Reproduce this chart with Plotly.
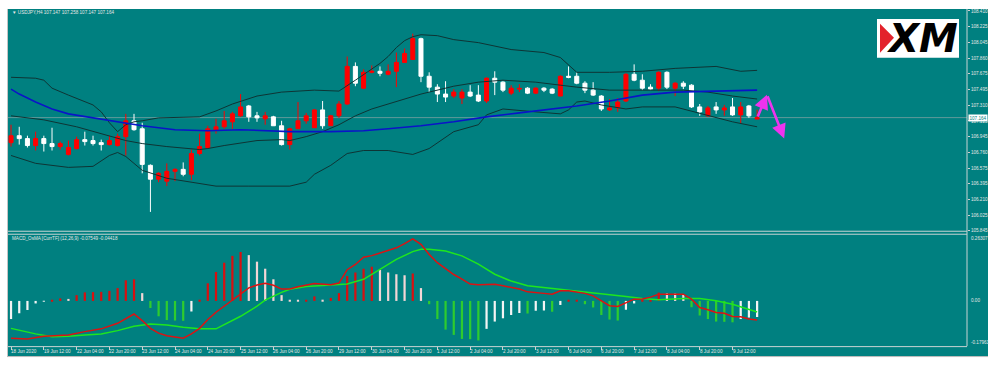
import plotly.graph_objects as go

# ---------------- data ----------------
bars = list(range(92))

open_ = [
    106.872, 106.953, 106.919, 106.838, 106.919, 106.861, 106.826, 106.734, 106.803, 106.907,
    106.896, 106.872, 106.849, 106.838, 106.942, 107.127, 107.034, 106.607, 106.445, 106.422,
    106.537, 106.560, 106.502, 106.745, 106.815, 107.023, 107.057, 107.115, 107.185, 107.300,
    107.185, 107.150, 107.173, 107.069, 106.849, 107.034, 107.127, 107.046, 107.254, 107.069,
    107.185, 107.323, 107.762, 107.508, 107.693, 107.705, 107.670, 107.705, 107.809, 107.843,
    108.086, 107.647, 107.520, 107.439, 107.416, 107.393, 107.462, 107.427, 107.358, 107.624,
    107.578, 107.450, 107.497, 107.508, 107.450, 107.508, 107.497, 107.416, 107.647, 107.647,
    107.566, 107.485, 107.416, 107.254, 107.277, 107.358, 107.670, 107.601, 107.520, 107.508,
    107.693, 107.508, 107.566, 107.543, 107.289, 107.185, 107.289, 107.254, 107.289, 107.196,
    107.300, 107.147]
high_ = [
    107.081, 107.057, 106.953, 107.000, 106.953, 107.046, 106.884, 106.896, 106.942, 107.000,
    106.953, 106.907, 106.953, 106.977, 107.208, 107.208, 107.104, 106.618, 106.526, 106.630,
    106.572, 106.641, 106.791, 106.977, 107.069, 107.150, 107.242, 107.231, 107.439, 107.312,
    107.231, 107.231, 107.185, 107.127, 107.046, 107.346, 107.219, 107.265, 107.358, 107.196,
    107.358, 107.878, 107.809, 107.728, 107.774, 107.762, 107.786, 107.924, 107.971, 108.144,
    108.098, 107.693, 107.554, 107.589, 107.497, 107.497, 107.543, 107.543, 107.635, 107.705,
    107.589, 107.543, 107.554, 107.520, 107.520, 107.520, 107.508, 107.658, 107.762, 107.693,
    107.589, 107.578, 107.427, 107.381, 107.393, 107.682, 107.786, 107.670, 107.554, 107.705,
    107.705, 107.578, 107.589, 107.554, 107.323, 107.300, 107.346, 107.312, 107.393, 107.346,
    107.312, 107.258]
low_ = [
    106.826, 106.849, 106.815, 106.780, 106.768, 106.780, 106.791, 106.722, 106.791, 106.838,
    106.838, 106.780, 106.838, 106.826, 106.722, 107.011, 106.514, 106.063, 106.410, 106.364,
    106.422, 106.479, 106.433, 106.722, 106.803, 106.977, 107.034, 107.034, 107.173, 107.115,
    107.115, 107.081, 107.069, 106.838, 106.791, 107.034, 107.092, 107.046, 107.034, 107.069,
    107.161, 107.312, 107.531, 107.497, 107.682, 107.647, 107.658, 107.520, 107.809, 107.843,
    107.578, 107.462, 107.346, 107.346, 107.393, 107.323, 107.404, 107.346, 107.335, 107.427,
    107.462, 107.427, 107.462, 107.439, 107.439, 107.462, 107.439, 107.416, 107.624, 107.554,
    107.450, 107.416, 107.242, 107.242, 107.231, 107.346, 107.589, 107.485, 107.485, 107.474,
    107.497, 107.416, 107.497, 107.277, 107.185, 107.173, 107.208, 107.185, 107.185, 107.092,
    107.161, 107.147]
close_ = [
    106.953, 106.919, 106.838, 106.919, 106.861, 106.826, 106.861, 106.815, 106.907, 106.884,
    106.861, 106.849, 106.896, 106.942, 107.127, 107.023, 106.618, 106.445, 106.514, 106.537,
    106.560, 106.502, 106.745, 106.826, 107.034, 107.057, 107.127, 107.208, 107.289, 107.173,
    107.161, 107.185, 107.069, 106.849, 107.034, 107.127, 107.185, 107.254, 107.069, 107.185,
    107.323, 107.762, 107.566, 107.693, 107.705, 107.682, 107.705, 107.809, 107.913, 108.086,
    107.647, 107.520, 107.439, 107.404, 107.462, 107.462, 107.416, 107.358, 107.624, 107.578,
    107.485, 107.508, 107.505, 107.450, 107.508, 107.485, 107.450, 107.647, 107.635, 107.566,
    107.485, 107.427, 107.265, 107.277, 107.346, 107.670, 107.601, 107.508, 107.497, 107.693,
    107.520, 107.566, 107.531, 107.289, 107.231, 107.277, 107.254, 107.277, 107.196, 107.289,
    107.185, 107.164]

bb_up_idx = [0, 3, 4, 5, 7, 10, 11, 12, 13, 14, 15, 16, 18, 23, 25, 27, 30, 33, 37, 40, 42, 44,
             45, 46, 47, 48, 49, 50, 52, 54, 57, 61, 65, 67, 68, 69, 73, 77, 81, 86, 89, 91]
bb_up = [107.635, 107.624, 107.601, 107.508, 107.427, 107.312, 107.231, 107.104, 107.000, 107.081,
         107.115, 107.127, 107.161, 107.173, 107.242, 107.323, 107.416, 107.462, 107.485, 107.474,
         107.601, 107.728, 107.797, 107.878, 107.982, 108.063, 108.109, 108.132, 108.121, 108.075,
         108.040, 107.959, 107.924, 107.866, 107.774, 107.693, 107.693, 107.705, 107.739, 107.762,
         107.705, 107.716]

bb_mid_idx = [0, 4, 8, 12, 14, 16, 19, 23, 24, 26, 30, 33, 34, 36, 38, 40, 42, 44, 46, 50, 54,
              57, 60, 64, 67, 69, 73, 77, 82, 85, 88, 91]
bb_mid = [107.185, 107.138, 107.057, 106.953, 106.896, 106.861, 106.826, 106.791, 106.803, 106.838,
          106.896, 106.907, 106.896, 106.942, 107.000, 107.081, 107.185, 107.265, 107.323, 107.439,
          107.531, 107.578, 107.601, 107.578, 107.543, 107.520, 107.485, 107.485, 107.485, 107.462,
          107.416, 107.381]

bb_low_idx = [0, 3, 7, 10, 12, 13, 14, 16, 19, 22, 25, 29, 34, 36, 37, 39, 41, 43, 46, 49, 51, 54,
              57, 58, 60, 64, 67, 68, 69, 70, 72, 75, 77, 81, 85, 88, 91]
bb_low = [106.722, 106.630, 106.583, 106.595, 106.722, 106.757, 106.710, 106.549, 106.456, 106.410,
          106.364, 106.364, 106.364, 106.410, 106.502, 106.607, 106.745, 106.780, 106.780, 106.734,
          106.803, 107.000, 107.081, 107.196, 107.265, 107.231, 107.208, 107.254, 107.346, 107.358,
          107.312, 107.265, 107.289, 107.289, 107.185, 107.115, 107.057]

ma_idx = [0, 1, 3, 5, 7, 10, 12, 16, 20, 24, 28, 34, 39, 43, 46, 50, 54, 58, 62, 66, 69, 73, 77,
          81, 85, 91]
ma_val = [107.497, 107.439, 107.346, 107.265, 107.208, 107.161, 107.127, 107.069, 107.023, 107.011,
          107.023, 107.000, 107.000, 107.011, 107.034, 107.069, 107.115, 107.173, 107.219, 107.265,
          107.300, 107.358, 107.427, 107.462, 107.474, 107.485]

osma = [
    -0.072, -0.049, -0.036, -0.010, -0.002, 0.002, 0.010, 0.008, 0.023, 0.034,
    0.035, 0.036, 0.040, 0.051, 0.082, 0.086, 0.031, -0.028, -0.061, -0.076,
    -0.078, -0.079, -0.042, 0.005, 0.070, 0.115, 0.152, 0.179, 0.194, 0.182,
    0.156, 0.128, 0.086, 0.023, 0.002, 0.001, 0.002, 0.018, 0.005, 0.012,
    0.031, 0.099, 0.113, 0.128, 0.136, 0.123, 0.113, 0.106, 0.102, 0.109,
    0.051, -0.013, -0.072, -0.114, -0.135, -0.151, -0.152, -0.157, -0.111, -0.082,
    -0.069, -0.056, -0.048, -0.050, -0.039, -0.038, -0.043, -0.016, 0.003, 0.004,
    -0.013, -0.026, -0.056, -0.074, -0.078, -0.035, -0.010, 0.002, 0.004, 0.033,
    0.030, 0.029, 0.024, -0.025, -0.058, -0.072, -0.082, -0.083, -0.085, -0.072,
    -0.066, -0.064]

macd_idx = [0, 2, 4, 7, 9, 11, 13, 14, 15, 16, 17, 18, 19, 21, 22, 23, 24, 25, 26, 27, 28, 29,
            30, 31, 32, 33, 34, 35, 37, 39, 40, 41, 42, 43, 44, 45, 46, 47, 48, 49, 50, 51, 52,
            53, 54, 55, 56, 57, 58, 59, 60, 61, 62, 63, 64, 65, 66, 67, 68, 69, 70, 71, 72, 73,
            74, 75, 76, 77, 78, 79, 82, 83, 84, 85, 86, 87, 88, 89, 90, 91]
macd_val = [-0.148, -0.151, -0.140, -0.135, -0.122, -0.111, -0.089, -0.069, -0.052, -0.078,
            -0.109, -0.128, -0.138, -0.148, -0.131, -0.109, -0.074, -0.045, -0.020, 0.005,
            0.030, 0.052, 0.063, 0.070, 0.062, 0.047, 0.047, 0.056, 0.069, 0.064,
            0.071, 0.124, 0.145, 0.174, 0.180, 0.191, 0.199, 0.211, 0.228, 0.247,
            0.225, 0.185, 0.152, 0.128, 0.105, 0.087, 0.067, 0.064, 0.066, 0.066,
            0.060, 0.053, 0.047, 0.036, 0.034, 0.030, 0.027, 0.040, 0.040, 0.034,
            0.030, 0.020, 0.001, -0.019, -0.022, -0.006, 0.007, 0.008, 0.015, 0.027,
            0.027, 0.007, -0.026, -0.035, -0.046, -0.049, -0.062, -0.063, -0.072, -0.07549]

signal_idx = [0, 3, 5, 7, 9, 11, 13, 15, 17, 19, 21, 23, 25, 26, 28, 30, 31, 33, 34, 36, 39, 41,
              43, 45, 47, 49, 50, 51, 53, 55, 57, 59, 61, 63, 65, 67, 69, 71, 73, 75, 77, 79,
              82, 84, 86, 88, 91]
signal_val = [-0.109, -0.131, -0.142, -0.140, -0.135, -0.131, -0.118, -0.101, -0.092, -0.096,
              -0.105, -0.111, -0.111, -0.094, -0.061, -0.021, 0.003, 0.034, 0.046, 0.057,
              0.063, 0.067, 0.086, 0.126, 0.165, 0.196, 0.205, 0.205, 0.198, 0.179,
              0.146, 0.106, 0.079, 0.060, 0.053, 0.047, 0.040, 0.034, 0.027, 0.018,
              0.010, 0.005, 0.010, 0.010, 0.001, -0.013, -0.04418]

price_ticks = [108.410, 108.225, 108.045, 107.860, 107.675, 107.495, 107.310, 107.125,
               106.945, 106.760, 106.575, 106.395, 106.210, 106.025, 105.845]
time_label_bars = list(range(0, 92, 4))
time_labels = ["18 Jun 2020", "19 Jun 12:00", "22 Jun 04:00", "22 Jun 20:00", "23 Jun 12:00",
               "24 Jun 04:00", "24 Jun 20:00", "25 Jun 12:00", "26 Jun 04:00", "26 Jun 20:00",
               "29 Jun 12:00", "30 Jun 04:00", "30 Jun 20:00", "1 Jul 12:00", "2 Jul 04:00",
               "2 Jul 20:00", "3 Jul 12:00", "6 Jul 04:00", "6 Jul 20:00", "7 Jul 12:00",
               "8 Jul 04:00", "8 Jul 20:00", "9 Jul 12:00"]
last_price = 107.164
header = "USDJPY,H4 107.147 107.258 107.147 107.164"
macd_header = "MACD_OsMA [CurrTF] (12,26,9) -0.07549 -0.04418"

# ---------------- styling / layout ----------------
W, H = 1000, 371
TEAL = "#008080"
TXT = "#e6e6e6"
FONT = "Liberation Sans"


def px(x):
    return x / W


def py(y):
    return 1 - y / H


X_DOM = [px(8), px(967)]
Y_MAIN = [py(232), py(9)]
Y_MACD = [py(348), py(236)]
XR = [-0.37, 116.6]

hist_colors = []
for i, v in enumerate(osma):
    prev = osma[i - 1] if i > 0 else v - 1
    if v >= 0:
        hist_colors.append("#d81010" if v >= prev else "#f3d6d6")
    else:
        hist_colors.append("#2ecc2e" if v < prev else "#f4f4f4")

fig = go.Figure()
fig.add_trace(go.Candlestick(
    x=bars, open=open_, high=high_, low=low_, close=close_,
    increasing=dict(line=dict(color="#ff0000", width=1), fillcolor="#ff0000"),
    decreasing=dict(line=dict(color="#ffffff", width=1), fillcolor="#ffffff"),
    whiskerwidth=0, xaxis="x", yaxis="y", showlegend=False, hoverinfo="skip"))

for idx, vals in [(bb_up_idx, bb_up), (bb_mid_idx, bb_mid), (bb_low_idx, bb_low)]:
    fig.add_trace(go.Scatter(x=idx, y=vals, mode="lines", xaxis="x", yaxis="y",
                             line=dict(color="#0e3434", width=1), showlegend=False,
                             hoverinfo="skip"))
fig.add_trace(go.Scatter(x=ma_idx, y=ma_val, mode="lines", xaxis="x", yaxis="y",
                         line=dict(color="#0a14c8", width=1.6), showlegend=False,
                         hoverinfo="skip"))

fig.add_trace(go.Bar(x=bars, y=osma, marker=dict(color=hist_colors, line=dict(width=0)),
                     width=0.27, xaxis="x2", yaxis="y2", showlegend=False, hoverinfo="skip"))
fig.add_trace(go.Scatter(x=signal_idx, y=signal_val, mode="lines", xaxis="x2", yaxis="y2",
                         line=dict(color="#1ee61e", width=1.5), showlegend=False,
                         hoverinfo="skip"))
fig.add_trace(go.Scatter(x=macd_idx, y=macd_val, mode="lines", xaxis="x2", yaxis="y2",
                         line=dict(color="#dd1212", width=1.5), showlegend=False,
                         hoverinfo="skip"))

shapes = [
    # teal chart window
    dict(type="rect", xref="paper", yref="paper", x0=px(8), x1=px(988), y0=py(358), y1=py(9),
         fillcolor=TEAL, line=dict(width=0), layer="below"),
    # current price line
    dict(type="line", xref="paper", yref="y", x0=px(8), x1=px(967), y0=last_price, y1=last_price,
         line=dict(color="rgba(175,175,175,0.55)", width=1), layer="below"),
    # borders
    dict(type="line", xref="paper", yref="paper", x0=px(7.5), x1=px(7.5), y0=py(358), y1=py(9),
         line=dict(color="#c4c4c4", width=1)),
    dict(type="line", xref="paper", yref="paper", x0=px(967), x1=px(967), y0=py(348), y1=py(9),
         line=dict(color="#c8d4d4", width=1)),
    dict(type="line", xref="paper", yref="paper", x0=px(8), x1=px(967), y0=py(232.5), y1=py(232.5),
         line=dict(color="#c8d4d4", width=1)),
    dict(type="line", xref="paper", yref="paper", x0=px(8), x1=px(967), y0=py(235.5), y1=py(235.5),
         line=dict(color="#c8d4d4", width=1)),
    dict(type="line", xref="paper", yref="paper", x0=px(8), x1=px(967), y0=py(348.5), y1=py(348.5),
         line=dict(color="#c8d4d4", width=1)),
    dict(type="line", xref="paper", yref="paper", x0=px(7), x1=px(988), y0=py(358.5), y1=py(358.5),
         line=dict(color="#b8b8b8", width=1)),
    # XM logo box and red wedge
    dict(type="rect", xref="paper", yref="paper", x0=px(877), x1=px(959), y0=py(58), y1=py(19),
         fillcolor="white", line=dict(width=0)),
    dict(type="path", xref="paper", yref="paper",
         path=f"M {px(880)},{py(24)} L {px(894)},{py(38)} L {px(880)},{py(53)} Z",
         fillcolor="#e3222b", line=dict(width=0)),
]

ann = []
ann.append(dict(xref="paper", yref="paper", x=px(11), y=py(12.5), xanchor="left", yanchor="middle",
                text="▼ " + header, showarrow=False, font=dict(family=FONT, size=4.6, color=TXT),
                borderpad=0))
ann.append(dict(xref="paper", yref="paper", x=px(11), y=py(240), xanchor="left", yanchor="middle",
                text=macd_header, showarrow=False, font=dict(family=FONT, size=4.6, color=TXT),
                borderpad=0))
for b, t in zip(time_label_bars, time_labels):
    ann.append(dict(xref="x2", yref="paper", x=b, y=py(353), xanchor="left", yanchor="middle",
                    text=t, showarrow=False, font=dict(family=FONT, size=4.6, color=TXT),
                    borderpad=0, xshift=-1))
# MACD scale labels
for v, t, ya in [(0.26307, "0.26307", "top"), (0.0, "0.00", "middle"),
                 (-0.17961, "-0.17961", "bottom")]:
    ann.append(dict(xref="paper", yref="y2", x=px(970), y=v, xanchor="left", yanchor=ya,
                    text=t, showarrow=False, font=dict(family=FONT, size=4.6, color=TXT),
                    borderpad=0))
# current price tag
ann.append(dict(xref="paper", yref="y", x=px(968), y=last_price, xanchor="left", yanchor="middle",
                text=f"{last_price:.3f}", showarrow=False, bgcolor="white",
                font=dict(family=FONT, size=4.6, color=TEAL), borderpad=0.5))
# XM logo text
ann.append(dict(xref="paper", yref="paper", x=px(922), y=py(38.5), xanchor="center",
                yanchor="middle", text="<b><i>XM</i></b>", showarrow=False,
                font=dict(family="DejaVu Sans", size=39, color="black")))
# magenta forecast arrows
ann.append(dict(xref="x", yref="y", axref="x", ayref="y", x=92.2, y=107.43, ax=91, ay=107.16,
                showarrow=True, arrowhead=2, arrowsize=1.1, arrowwidth=2.6,
                arrowcolor="#ee33ee", text="", standoff=0))
ann.append(dict(xref="x", yref="y", axref="x", ayref="y", x=94.3, y=106.92, ax=92.2, ay=107.43,
                showarrow=True, arrowhead=2, arrowsize=1.1, arrowwidth=2.6,
                arrowcolor="#ee33ee", text="", standoff=0))

fig.update_layout(
    width=W, height=H, margin=dict(l=0, r=0, t=0, b=0),
    paper_bgcolor="white", plot_bgcolor="rgba(0,0,0,0)",
    showlegend=False, shapes=shapes, annotations=ann,
    xaxis=dict(domain=X_DOM, range=XR, anchor="y", showgrid=False, zeroline=False,
               showticklabels=False, ticks="", rangeslider=dict(visible=False), fixedrange=True),
    yaxis=dict(domain=Y_MAIN, range=[105.843, 108.433], anchor="x", side="right",
               tickvals=price_ticks, ticktext=[f"{v:.3f}" for v in price_ticks],
               ticks="outside", ticklen=2, tickcolor="#d0d0d0", tickwidth=1,
               tickfont=dict(family=FONT, size=4.6, color=TXT),
               showgrid=False, zeroline=False, showline=False, fixedrange=True),
    xaxis2=dict(domain=X_DOM, range=XR, anchor="y2", showgrid=False, zeroline=False,
                tickvals=time_label_bars, ticks="outside", ticklen=3, tickcolor="#d0d0d0",
                showticklabels=False, fixedrange=True),
    yaxis2=dict(domain=Y_MACD, range=[-0.17961, 0.26307], anchor="x2", side="right",
                showgrid=False, zeroline=False, showticklabels=False, ticks="",
                fixedrange=True),
)

fig.write_html("out.html", config={"displayModeBar": False},
               post_script="document.body.style.margin='0px';")
